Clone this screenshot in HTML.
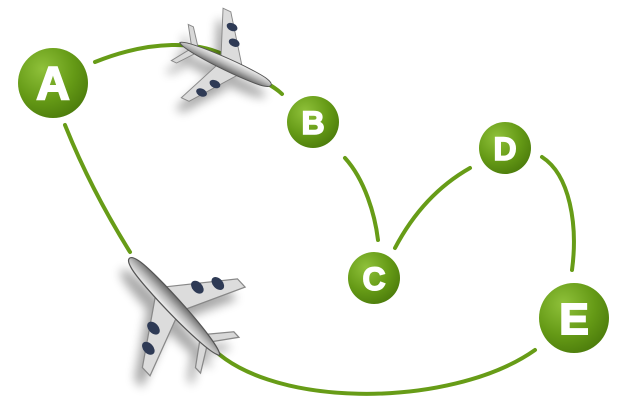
<!DOCTYPE html>
<html><head><meta charset="utf-8"><style>
html,body{margin:0;padding:0;background:#fff;width:626px;height:420px;overflow:hidden}
</style></head><body>
<svg width="626" height="420" viewBox="0 0 626 420" xmlns="http://www.w3.org/2000/svg">
<defs>
<radialGradient id="g" cx="35%" cy="30%" r="75%">
<stop offset="0" stop-color="#8fc13a"/><stop offset="0.6" stop-color="#659a16"/><stop offset="1" stop-color="#4d7d0c"/>
</radialGradient>
<linearGradient id="m" x1="0" y1="0" x2="0" y2="1">
<stop offset="0" stop-color="#f4f4f4"/><stop offset="0.5" stop-color="#b8b8b8"/><stop offset="1" stop-color="#6a6a6a"/>
</linearGradient>
<filter id="sh" x="-50%" y="-50%" width="200%" height="200%"><feGaussianBlur stdDeviation="5"/></filter>
<g id="plane">
<path d="M-10,-4 L-30,-52 L-21,-52 L14,-5 Z M-10,4 L-30,52 L-21,52 L14,5 Z" fill="#dcdcdc" stroke="#888" stroke-width="1"/>
<path d="M-44,-3 L-56,-21 L-50,-21 L-36,-3 Z M-44,3 L-56,21 L-50,21 L-36,3 Z" fill="#d8d8d8" stroke="#888" stroke-width="1"/>
<ellipse cx="-4" cy="-24" rx="6" ry="4" fill="#2e3a55"/>
<ellipse cx="-13" cy="-38" rx="6" ry="4" fill="#2e3a55"/>
<ellipse cx="-4" cy="24" rx="6" ry="4" fill="#2e3a55"/>
<ellipse cx="-13" cy="38" rx="6" ry="4" fill="#2e3a55"/>
<path d="M-56,0 C-50,-7 30,-8 44,-4 C52,-2 52,2 44,4 C30,8 -50,7 -56,0 Z" fill="url(#m)" stroke="#555" stroke-width="1"/>
</g>
<g id="pshadow" fill="#000">
<path d="M-10,-4 L-30,-52 L-21,-52 L14,-5 Z M-10,4 L-30,52 L-21,52 L14,5 Z M-56,0 C-50,-7 30,-8 44,-4 C52,-2 52,2 44,4 C30,8 -50,7 -56,0 Z M-44,-3 L-56,-21 L-50,-21 L-36,-3 Z M-44,3 L-56,21 L-50,21 L-36,3 Z"/>
</g>
</defs>
<g fill="none" stroke="#679c17" stroke-width="4" stroke-linecap="round">
<path d="M95,62 C150,40 200,40 230,58"/>
<path d="M258,78 C268,84 276,88 282,94"/>
<path d="M65,125 C85,175 110,220 130,252"/>
<path d="M205,340 C260,410 450,410 535,350"/>
<path d="M345,158 C365,180 375,215 378,240"/>
<path d="M395,248 C415,210 440,185 470,168"/>
<path d="M542,157 C570,175 578,225 572,270"/>
</g>
<g filter="url(#sh)" opacity="0.35"><use href="#pshadow" transform="translate(222,76) rotate(25) scale(0.95)"/></g>
<g filter="url(#sh)" opacity="0.35"><use href="#pshadow" transform="translate(164,316) rotate(-133) scale(1.25)"/></g>
<use href="#plane" transform="translate(228,65) rotate(25) scale(0.95)"/>
<use href="#plane" transform="translate(172,304) rotate(-133) scale(1.25)"/>
<g font-family="Liberation Sans, sans-serif" font-weight="bold" fill="#fff" stroke="#fff" text-anchor="middle">
<circle cx="53" cy="83" r="35" fill="url(#g)" stroke="none"/>
<text x="53" y="99" font-size="46" stroke-width="2">A</text>
<circle cx="313" cy="122" r="26" fill="url(#g)" stroke="none"/>
<text x="313" y="134" font-size="32" stroke-width="1.5">B</text>
<circle cx="374" cy="278" r="26" fill="url(#g)" stroke="none"/>
<text x="374" y="290" font-size="32" stroke-width="1.5">C</text>
<circle cx="505" cy="148" r="26" fill="url(#g)" stroke="none"/>
<text x="505" y="160" font-size="32" stroke-width="1.5">D</text>
<circle cx="574" cy="318" r="35" fill="url(#g)" stroke="none"/>
<text x="574" y="334" font-size="44" stroke-width="2">E</text>
</g>
</svg>
</body></html>
